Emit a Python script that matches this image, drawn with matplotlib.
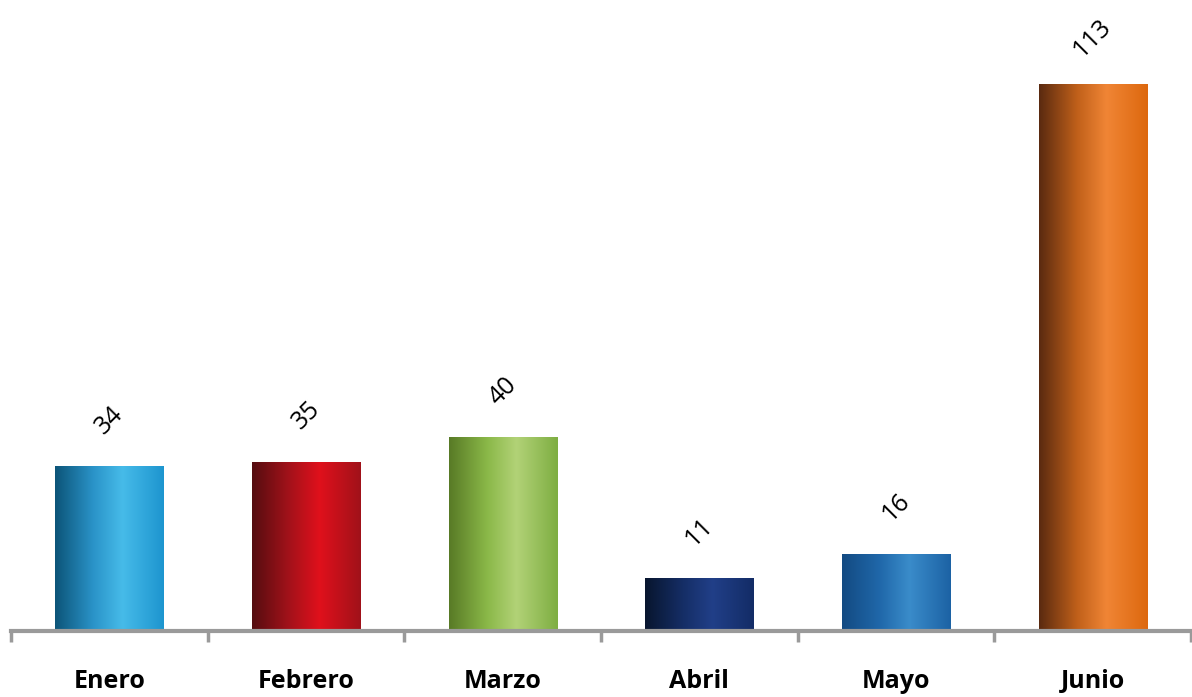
import numpy as np
import matplotlib.pyplot as plt
from matplotlib.colors import LinearSegmentedColormap

months = ['Enero', 'Febrero', 'Marzo', 'Abril', 'Mayo', 'Junio']
values = [34, 35, 40, 11, 16, 113]
# left (shadow) -> highlight -> right edge colour for each bar
shades = [
    ['#0c5478', '#2a93c8', '#46bbe9', '#1d95cf'],
    ['#550d10', '#a5121a', '#e0101c', '#a01219'],
    ['#587a26', '#8ab848', '#b2d277', '#7eae42'],
    ['#08152e', '#152e66', '#213f88', '#132c66'],
    ['#134a82', '#2068aa', '#3a8cca', '#1c62a4'],
    ['#5a2a10', '#c0601a', '#f08535', '#dd680e'],
]

fig = plt.figure(figsize=(11.92, 6.97), dpi=100)
ax = fig.add_axes([11 / 1192, 66 / 697, 1180 / 1192, 631 / 697])

x = np.arange(len(months))
bars = ax.bar(x, values, width=0.55, color='none', edgecolor='none', zorder=2)

grad = np.linspace(0, 1, 256).reshape(1, -1)
for b, cols in zip(bars, shades):
    cmap = LinearSegmentedColormap.from_list('g', list(zip([0, 0.35, 0.62, 1.0], cols)))
    x0, w, h = b.get_x(), b.get_width(), b.get_height()
    im = ax.imshow(grad, cmap=cmap, aspect='auto', extent=[x0, x0 + w, 0, h], zorder=2)
    im.set_clip_path(b)

for xi, v in zip(x, values):
    ax.annotate(str(v), (xi, v), xytext=(0, 33), textcoords='offset points',
                ha='center', va='center', rotation=45, fontsize=18,
                family='Open Sans', color='black')

ax.set_xlim(-0.5, len(months) - 0.5)
ax.set_ylim(0, 130.4)

for s in ['top', 'right', 'left']:
    ax.spines[s].set_visible(False)
ax.spines['bottom'].set_color('#9a9a9a')
ax.spines['bottom'].set_linewidth(3)
ax.spines['bottom'].set_zorder(3)

ax.set_yticks([])
ax.set_xticks(x)
ax.set_xticklabels(months, fontsize=18, fontweight='bold', family='Open Sans')
ax.tick_params(axis='x', which='major', length=0, pad=27)
ax.set_xticks(np.arange(-0.5, len(months)), minor=True)
ax.tick_params(axis='x', which='minor', length=8, width=2.5, color='#9a9a9a', direction='out')

fig.savefig('out.png', dpi=100)
